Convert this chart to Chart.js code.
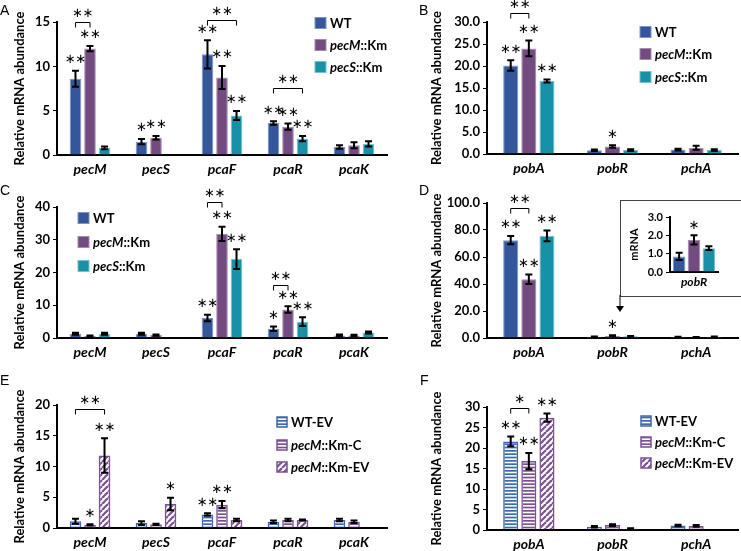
<!DOCTYPE html>
<html>
<head>
<meta charset="utf-8">
<title>Relative mRNA abundance</title>
<script src="https://cdn.jsdelivr.net/npm/chart.js"></script>
<style>
  body { margin: 0; background: #fff; }
  #page { position: relative; width: 741px; height: 551px; overflow: hidden; }
  canvas { position: absolute; }
  .tag { position: absolute; font: 14px "Liberation Sans", Arial, sans-serif; line-height: 1; }
  #inset-box { position: absolute; left: 620px; top: 200px; width: 140px; height: 95px; border: 1px solid #444; }
  #arrow { position: absolute; left: 614px; top: 295px; }
</style>
</head>
<body>
<div id="page">
  <canvas id="chartA" width="390" height="180" style="left:0;top:0"></canvas>
  <canvas id="chartB" width="351" height="180" style="left:390px;top:0"></canvas>
  <canvas id="chartC" width="390" height="180" style="left:0;top:180px"></canvas>
  <canvas id="chartD" width="351" height="180" style="left:390px;top:180px"></canvas>
  <canvas id="chartE" width="390" height="191" style="left:0;top:360px"></canvas>
  <canvas id="chartF" width="351" height="191" style="left:390px;top:360px"></canvas>
  <div id="inset-box"></div>
  <canvas id="chartInset" width="120" height="94" style="left:621px;top:201px"></canvas>
  <svg id="arrow" width="12" height="18"><line x1="6" y1="0" x2="6" y2="12" stroke="#000" stroke-width="1"/><polygon points="2,11 10,11 6,17" fill="#000"/></svg>
  <div class="tag" style="left:0;top:3px">A</div>
  <div class="tag" style="left:419px;top:3px">B</div>
  <div class="tag" style="left:0;top:183px">C</div>
  <div class="tag" style="left:419px;top:183px">D</div>
  <div class="tag" style="left:0;top:373px">E</div>
  <div class="tag" style="left:420px;top:373px">F</div>
</div>
<script>
// categories
const genesPec = ['pecM', 'pecS', 'pcaF', 'pcaR', 'pcaK'];
const genesPob = ['pobA', 'pobR', 'pchA'];
const strains = ['WT', 'pecM::Km', 'pecS::Km'];
const strainsEV = ['WT-EV', 'pecM::Km-C', 'pecM::Km-EV'];

// A
const aWT = [8.6, 1.5, 11.35, 3.6, 0.9];
const aWTErr = [0.9, 0.3, 1.6, 0.2, 0.2];
const aPecM = [12.0, 1.95, 8.75, 3.2, 1.1];
const aPecMErr = [0.3, 0.2, 1.3, 0.35, 0.35];
const aPecS = [0.8, 0, 4.45, 1.85, 1.25];
const aPecSErr = [0.15, 0, 0.5, 0.3, 0.3];
const aStars = [['**', '*', '**', '**', ''], ['**', '**', '**', '**', ''], ['', '', '**', '**', '']];
const aBrackets = [[0, 0, 1, 15.0, '**'], [2, 0, 2, 15.2, '**'], [3, 0, 2, 7.6, '**']];

// B
const bWT = [20.1, 0.85, 1.0];
const bWTErr = [1.2, 0.15, 0.2];
const bPecM = [24.0, 1.7, 1.4];
const bPecMErr = [1.8, 0.3, 0.45];
const bPecS = [16.6, 0.9, 0.9];
const bPecSErr = [0.35, 0.2, 0.2];
const bStars = [['**', '', ''], ['**', '*', ''], ['**', '', '']];
const bBrackets = [[0, 0, 1, 32.0, '**']];

// C
const cWT = [1.3, 1.3, 6.1, 2.8, 0.8];
const cWTErr = [0.3, 0.3, 1.0, 0.7, 0.3];
const cPecM = [0.6, 0.9, 31.8, 8.7, 0.8];
const cPecMErr = [0.2, 0.2, 2.2, 1.0, 0.2];
const cPecS = [1.3, 0, 24.1, 5.0, 1.7];
const cPecSErr = [0.3, 0, 3.0, 1.3, 0.3];
const cStars = [['', '', '**', '*', ''], ['', '', '**', '**', ''], ['', '', '**', '**', '']];
const cBrackets = [[2, 0, 1, 41.5, '**'], [3, 0, 1, 16.2, '**']];

// D (+ inset for pobR)
const dWT = [72.5, 0.85, 0.8];
const dWTErr = [3.0, 0.2, 0.2];
const dPecM = [43.5, 1.75, 0.6];
const dPecMErr = [3.5, 0.25, 0.2];
const dPecS = [75.7, 1.3, 0.9];
const dPecSErr = [4.0, 0.1, 0.2];
const dStars = [['**', '', ''], ['**', '*', ''], ['**', '', '']];
const dBrackets = [[0, 0, 1, 96.3, '**']];

// E
const eWT = [1.1, 0.8, 2.2, 1.0, 1.3];
const eWTErr = [0.4, 0.3, 0.2, 0.2, 0.2];
const eC = [0.5, 0.6, 3.8, 1.3, 1.0];
const eCErr = [0.1, 0.1, 0.6, 0.2, 0.2];
const eEV = [11.8, 3.9, 1.3, 1.3, 0];
const eEVErr = [2.8, 1.0, 0.2, 0.1, 0];
const eStars = [['', '', '**', '', ''], ['*', '', '**', '', ''], ['**', '*', '', '', '']];
const eBrackets = [[0, 0, 2, 19.35, '**']];

// F
const fWT = [21.6, 0.8, 1.1];
const fWTErr = [1.2, 0.2, 0.2];
const fC = [16.8, 1.2, 1.0];
const fCErr = [2.0, 0.2, 0.2];
const fEV = [27.4, 0.3, 0];
const fEVErr = [1.0, 0.1, 0];
const fStars = [['**', '', ''], ['**', '', ''], ['**', '', '']];
const fBrackets = [[0, 0, 1, 29.75, '*']];

const FONT = 'Lato, "Open Sans", sans-serif';
Chart.defaults.color = '#000';
Chart.defaults.font.family = FONT;

// fills
const solid = [
  { bg: '#34569A', bd: '#7C95C4' },
  { bg: '#734B80', bd: '#A68BB0' },
  { bg: '#1891A6', bd: '#72C2D0' }
];
function stripes(color) {
  const c = document.createElement('canvas');
  c.width = 10; c.height = 10;
  const g = c.getContext('2d');
  g.fillStyle = color;
  for (let i = 0; i < 3; i++) g.fillRect(0, i * 10 / 3, 10, 1.7);
  return g.createPattern(c, 'repeat');
}
function hatch(color) {
  const c = document.createElement('canvas');
  c.width = 6; c.height = 6;
  const g = c.getContext('2d');
  g.strokeStyle = color;
  g.lineWidth = 2.2;
  for (const o of [-6, 0, 6]) {
    g.beginPath(); g.moveTo(o, 6); g.lineTo(o + 6, 0); g.stroke();
  }
  return g.createPattern(c, 'repeat');
}
const evBlue = '#3D67AE', evPurple = '#7B5192';
const patterned = [
  { bg: stripes(evBlue), bd: evBlue },
  { bg: stripes(evPurple), bd: evPurple },
  { bg: hatch(evPurple), bd: evPurple }
];

function drawStars(ctx, txt, x, y, size) {
  ctx.font = size + 'px "DejaVu Sans"';
  ctx.fillStyle = '#000';
  ctx.textAlign = 'center';
  ctx.textBaseline = 'middle';
  const n = txt.length, step = size * 0.82;
  for (let k = 0; k < n; k++) ctx.fillText('\u2217', x + (k - (n - 1) / 2) * step, y);
}

// error bars, significance stars and brackets
const marks = {
  id: 'marks',
  afterDatasetsDraw(chart, args, o) {
    const ctx = chart.ctx, y = chart.scales.y;
    ctx.save();
    chart.data.datasets.forEach((ds, i) => {
      chart.getDatasetMeta(i).data.forEach((bar, j) => {
        const v = ds.data[j], e = ds.errors[j];
        if (!v) return;
        const top = y.getPixelForValue(v + e), bot = y.getPixelForValue(v - e);
        ctx.strokeStyle = '#000';
        ctx.lineWidth = o.lw;
        ctx.beginPath();
        ctx.moveTo(bar.x, top); ctx.lineTo(bar.x, bot);
        ctx.moveTo(bar.x - o.cap, top); ctx.lineTo(bar.x + o.cap, top);
        ctx.moveTo(bar.x - o.cap, bot); ctx.lineTo(bar.x + o.cap, bot);
        ctx.stroke();
        if (ds.stars[j]) drawStars(ctx, ds.stars[j], bar.x, top - o.gap, o.star);
      });
    });
    (o.brackets || []).forEach(([cat, a, b, v, txt]) => {
      const x1 = chart.getDatasetMeta(a).data[cat].x;
      const x2 = chart.getDatasetMeta(b).data[cat].x;
      const yy = Math.round(y.getPixelForValue(v)) + 0.5;
      ctx.strokeStyle = '#000';
      ctx.lineWidth = 1;
      ctx.beginPath();
      ctx.moveTo(x1, yy + 5); ctx.lineTo(x1, yy); ctx.lineTo(x2, yy); ctx.lineTo(x2, yy + 5);
      ctx.stroke();
      drawStars(ctx, txt, (x1 + x2) / 2, yy - 9, o.star);
    });
    ctx.restore();
  }
};

// legend with italic gene names
const keyBox = {
  id: 'keyBox',
  afterDraw(chart, args, o) {
    if (!o.ys) return;
    const ctx = chart.ctx, s = o.size;
    ctx.save();
    chart.data.datasets.forEach((ds, i) => {
      const cy = o.ys[i];
      ctx.fillStyle = ds.backgroundColor;
      ctx.fillRect(o.x, cy - s / 2, s, s);
      ctx.strokeStyle = ds.borderColor;
      ctx.lineWidth = ds.borderWidth;
      ctx.strokeRect(o.x, cy - s / 2, s, s);
      let tx = o.x + s + 4;
      const cut = ds.label.indexOf('::');
      const parts = cut < 0 ? [[ds.label, false]] : [[ds.label.slice(0, cut), true], [ds.label.slice(cut), false]];
      ctx.fillStyle = '#000';
      ctx.textAlign = 'left';
      ctx.textBaseline = 'middle';
      parts.forEach(([t, it]) => {
        ctx.font = (it ? 'italic ' : '') + 'bold 13px ' + FONT;
        ctx.fillText(t, tx, cy + 1);
        tx += ctx.measureText(t).width;
      });
    });
    ctx.restore();
  }
};

function panel(id, p) {
  const fills = p.fills || solid;
  return new Chart(document.getElementById(id), {
    type: 'bar',
    data: {
      labels: p.labels,
      datasets: p.series.map((d, i) => ({
        label: p.names[i],
        data: d,
        errors: p.errs[i],
        stars: p.stars[i],
        backgroundColor: fills[i].bg,
        borderColor: fills[i].bd,
        borderWidth: p.fills ? 1.5 : 1,
        categoryPercentage: p.cat,
        barPercentage: p.barPct || 0.8
      }))
    },
    options: {
      responsive: false,
      animation: false,
      layout: { padding: { left: p.padLeft, right: p.padRight || 3, top: p.top, bottom: 0 } },
      plugins: {
        legend: { display: false },
        tooltip: { enabled: false },
        marks: { brackets: p.brackets, lw: p.lw || 2, cap: p.capW || 3.5, gap: p.gap || 11, star: p.starSize || 13 },
        keyBox: p.key || {}
      },
      scales: {
        x: {
          grid: { display: false, drawTicks: false },
          border: { color: '#000', width: 2 },
          ticks: { padding: p.xPad || 6, maxRotation: 0, autoSkip: false,
                   font: { size: p.xFont || 14, weight: 'bold', style: 'italic' } },
          afterFit: s => { s.height = p.xh; }
        },
        y: {
          min: 0, max: p.max,
          ticks: { stepSize: p.step, padding: 3, callback: v => v.toFixed(p.dec || 0),
                   font: { size: p.yFont || 13, weight: 'bold' } },
          grid: { drawOnChartArea: false, drawTicks: true, tickLength: 4, color: '#000', lineWidth: 1 },
          border: { color: '#000', width: 2 },
          title: { display: true, text: p.title || 'Relative mRNA abundance', padding: { top: 4, bottom: 0 },
                   font: { size: p.titleFont || 13, weight: 'bold' } },
          afterFit: s => { s.width = p.yw; }
        }
      }
    },
    plugins: [marks, keyBox]
  });
}

panel('chartA', {
  labels: genesPec, names: strains,
  series: [aWT, aPecM, aPecS], errs: [aWTErr, aPecMErr, aPecSErr], stars: aStars, brackets: aBrackets,
  max: 15, step: 5, padLeft: 8, yw: 49, top: 22, xh: 25, cat: 0.66,
  key: { x: 315, ys: [23, 45, 67], size: 11 }
});
panel('chartB', {
  labels: genesPob, names: strains,
  series: [bWT, bPecM, bPecS], errs: [bWTErr, bPecMErr, bPecSErr], stars: bStars, brackets: bBrackets,
  max: 30, step: 5, dec: 1, padLeft: 35, yw: 62, top: 22, xh: 26, cat: 0.65, barPct: 0.83,
  key: { x: 250, ys: [32, 54, 77], size: 11 }
});
panel('chartC', {
  labels: genesPec, names: strains,
  series: [cWT, cPecM, cPecS], errs: [cWTErr, cPecMErr, cPecSErr], stars: cStars, brackets: cBrackets,
  max: 40, step: 10, padLeft: 8, yw: 49, top: 27, xh: 22, cat: 0.66,
  key: { x: 78, ys: [38, 62, 86], size: 11 }
});
panel('chartD', {
  labels: genesPob, names: strains,
  series: [dWT, dPecM, dPecS], errs: [dWTErr, dPecMErr, dPecSErr], stars: dStars, brackets: dBrackets,
  max: 100, step: 20, dec: 1, padLeft: 35, yw: 62, top: 23, xh: 22, cat: 0.65, barPct: 0.83
});
panel('chartE', {
  labels: genesPec, names: strainsEV, fills: patterned,
  series: [eWT, eC, eEV], errs: [eWTErr, eCErr, eEVErr], stars: eStars, brackets: eBrackets,
  max: 20, step: 5, padLeft: 8, yw: 49, top: 45, xh: 23, cat: 0.66,
  key: { x: 277, ys: [62, 85, 107], size: 10 }
});
panel('chartF', {
  labels: genesPob, names: strainsEV, fills: patterned,
  series: [fWT, fC, fEV], errs: [fWTErr, fCErr, fEVErr], stars: fStars, brackets: fBrackets,
  max: 30, step: 5, padLeft: 35, yw: 62, top: 47, xh: 21, cat: 0.65, barPct: 0.83,
  key: { x: 251, ys: [61, 82, 103], size: 10 }
});
// inset: pobR from panel D on its own scale
panel('chartInset', {
  labels: [genesPob[1]], names: strains,
  series: [[dWT[1]], [dPecM[1]], [dPecS[1]]],
  errs: [[dWTErr[1]], [dPecMErr[1]], [dPecSErr[1]]],
  stars: [[dStars[0][1]], [dStars[1][1]], [dStars[2][1]]],
  max: 3, step: 1, dec: 1, padLeft: 3, padRight: 23, yw: 46, top: 16, xh: 23, cat: 0.93, barPct: 0.85,
  title: 'mRNA', titleFont: 11, yFont: 11, xFont: 12, xPad: 3, gap: 10, starSize: 13
});
</script>
</body>
</html>
